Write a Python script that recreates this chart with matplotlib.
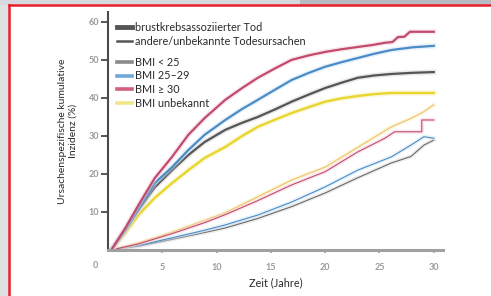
import matplotlib.pyplot as plt
import matplotlib.patheffects as pe
from matplotlib.lines import Line2D
from matplotlib.patches import Rectangle

plt.rcParams['font.family'] = ['Lato', 'DejaVu Sans']

# brustkrebsassoziierter Tod (dicke Linien)
t_bc = [0.3, 1.6, 2.8, 4.3, 5.9, 7.4, 8.9, 10.8, 12.3, 13.8, 15.4, 16.9, 18.5, 20, 21.5, 23, 24.5, 26.1, 28, 30]
bc_bmi_lt25 = [0, 5.2, 10.5, 16.5, 21, 25, 28.4, 31.6, 33.4, 35, 37, 39, 40.9, 42.6, 44, 45.3, 45.9, 46.3, 46.6, 46.8]
bc_bmi_25_29 = [0, 5.3, 10.8, 17.6, 21.8, 26.3, 30.3, 34.2, 37, 39.5, 42.2, 44.7, 46.6, 48.2, 49.4, 50.5, 51.6, 52.6, 53.3, 53.7]
bc_bmi_unbekannt = [0, 4.5, 9.2, 13.7, 17.6, 21, 24.2, 27.1, 29.9, 32.4, 34.3, 36, 37.6, 39, 39.9, 40.5, 41, 41.3, 41.3, 41.3]

t_bc_30 = [0.3, 1.6, 2.8, 4.3, 5.9, 7.4, 8.9, 10.8, 12.3, 13.8, 15.4, 16.9, 18.5, 20, 21.5, 23, 24.3, 25.5, 26.2, 26.7, 27.3, 27.8, 30]
bc_bmi_ge30 = [0, 5.8, 11.8, 18.9, 24.5, 30.3, 34.7, 39.5, 42.5, 45.3, 47.8, 50, 51.2, 52.1, 52.8, 53.4, 53.9, 54.5, 54.7, 56, 56.1, 57.4, 57.4]

# andere/unbekannte Todesursachen (dünne Linien)
t_oc = [0.3, 2.8, 5.9, 8.9, 10.8, 13.8, 16.9, 20, 23, 26.1, 27.9, 29.1, 30]
oc_bmi_lt25 = [0, 1.0, 2.8, 4.6, 5.8, 8.3, 11.4, 15, 19, 22.9, 24.6, 27.6, 28.9]
oc_bmi_25_29 = [0, 1.2, 3.2, 5.2, 6.6, 9.2, 12.6, 16.6, 21, 24.5, 27.6, 29.8, 29.4]
oc_bmi_unbekannt = [0, 1.8, 4.7, 7.8, 9.8, 14, 18.4, 21.8, 27, 32.4, 34.6, 36.4, 38.2]

t_oc_30 = [0.3, 2.8, 5.9, 8.9, 10.8, 13.8, 16.9, 20, 23, 25.5, 26.4, 28.9, 28.9, 30]
oc_bmi_ge30 = [0, 1.6, 4.3, 7.2, 9.3, 13, 17.1, 20.6, 25.8, 29.4, 31.1, 31.1, 34.2, 34.2]

x_ticks = [5, 10, 15, 20, 25, 30]
y_ticks = [10, 20, 30, 40, 50, 60]

c_grau = '#6a6a6a'
c_blau = '#4a8cc6'
c_rot = '#c24a6c'
c_gelb = '#e8d52e'
c_gelb_d = '#efc66a'

fig = plt.figure(figsize=(4.91, 2.96), dpi=100)
fig.patch.set_facecolor('white')

# Rahmen / Hintergrund
fig.patches.append(Rectangle((0, 0), 9 / 491, 1, transform=fig.transFigure,
                             facecolor='#dfe0e4', edgecolor='none', zorder=0))
fig.patches.append(Rectangle((0, 1 - 5 / 296), 300 / 491, 5 / 296, transform=fig.transFigure,
                             facecolor='#d8d9de', edgecolor='none', zorder=0))
fig.patches.append(Rectangle((300 / 491, 1 - 5 / 296), 191 / 491, 5 / 296, transform=fig.transFigure,
                             facecolor='#b9bac2', edgecolor='none', zorder=0))
fig.add_artist(Line2D([9 / 491, 9 / 491], [0, 1 - 5 / 296], transform=fig.transFigure,
                      color='#e8202a', lw=1.8))
fig.add_artist(Line2D([9 / 491, 1], [1 - 5 / 296, 1 - 5 / 296], transform=fig.transFigure,
                      color='#e8202a', lw=1.8))

ax = fig.add_axes([108 / 491, 46 / 296, 335 / 491, 238 / 296])
ax.set_facecolor('none')


def kurve(t, v, col, lw, halo):
    ax.plot(t, v, color=col, lw=lw, solid_joinstyle='round',
            path_effects=[pe.Stroke(linewidth=lw + 2.2, foreground=halo, alpha=0.45), pe.Normal()])


kurve(t_oc, oc_bmi_lt25, c_grau, 0.8, '#d8d8d8')
kurve(t_oc, oc_bmi_25_29, c_blau, 0.8, '#cfe3f4')
kurve(t_oc, oc_bmi_unbekannt, c_gelb_d, 0.9, '#fbefc8')
kurve(t_oc_30, oc_bmi_ge30, c_rot, 0.8, '#f3d0da')

kurve(t_bc, bc_bmi_unbekannt, c_gelb, 1.7, '#f8f0b0')
kurve(t_bc, bc_bmi_lt25, '#555555', 1.6, '#d0d0d0')
kurve(t_bc, bc_bmi_25_29, c_blau, 1.6, '#cfe3f4')
kurve(t_bc_30, bc_bmi_ge30, c_rot, 1.6, '#f3d0da')

ax.set_xlim(0, 30.85)
ax.set_ylim(0, 62.6)
ax.set_xticks(x_ticks)
ax.set_yticks(y_ticks)
ax.set_xticklabels([str(v) for v in x_ticks])
ax.set_yticklabels([str(v) for v in y_ticks])

for s in ['top', 'right']:
    ax.spines[s].set_visible(False)
ax.spines['left'].set_color('#4a4a4a')
ax.spines['left'].set_linewidth(1.5)
ax.spines['bottom'].set_color('#a0a0a0')
ax.spines['bottom'].set_linewidth(2.2)
ax.tick_params(axis='y', length=5, width=1.3, color='#4a4a4a', pad=1.5,
               labelsize=6.5, labelcolor='#9a9a9a')
ax.tick_params(axis='x', length=2.5, width=1.2, color='#a0a0a0', pad=6.5,
               labelsize=6.5, labelcolor='#9a9a9a')
for lab in ax.get_xticklabels() + ax.get_yticklabels():
    lab.set_fontweight('bold')
ax.text(-0.039, -0.065, '0', transform=ax.transAxes, ha='center', va='center',
        fontsize=6.5, fontweight='bold', color='#9a9a9a')

ax.set_xlabel('Zeit (Jahre)', fontsize=7.8, color='#2a2a2a', labelpad=4)
fig.text(68 / 491, 1 - 131 / 296, 'Ursachenspezifische kumulative\nInzidenz (%)',
         rotation=90, ha='center', va='center', multialignment='center',
         fontsize=7.5, color='#2a2a2a', linespacing=1.15)

# Legenden
h1 = [Line2D([], [], color='#555555', lw=3.5),
      Line2D([], [], color='#555555', lw=1.8)]
leg1 = ax.legend(h1, ['brustkrebsassoziierter Tod', 'andere/unbekannte Todesursachen'],
                 loc='upper left', bbox_to_anchor=(0.027, 0.958), frameon=False,
                 fontsize=7.8, handlelength=1.4, handletextpad=0.25, labelspacing=0.24,
                 borderpad=0, borderaxespad=0, labelcolor='#2a2a2a')
ax.add_artist(leg1)
h2 = [Line2D([], [], color='#8a8a8a', lw=2.6),
      Line2D([], [], color='#72a8d8', lw=2.6),
      Line2D([], [], color='#d0607c', lw=2.6),
      Line2D([], [], color='#f2e58a', lw=2.6)]
ax.legend(h2, ['BMI < 25', 'BMI 25–29', 'BMI ≥ 30', 'BMI unbekannt'],
          loc='upper left', bbox_to_anchor=(0.027, 0.812), frameon=False,
          fontsize=7.8, handlelength=1.4, handletextpad=0.25, labelspacing=0.24,
          borderpad=0, borderaxespad=0, labelcolor='#2a2a2a')

fig.savefig('out.png', dpi=100)
